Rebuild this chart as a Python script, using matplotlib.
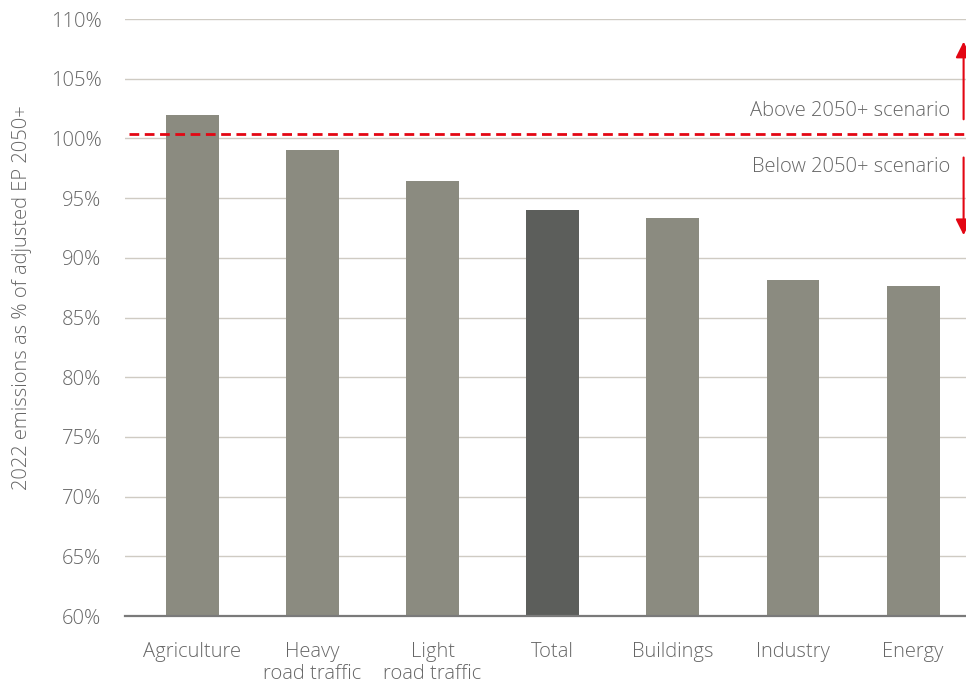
import matplotlib
matplotlib.use("Agg")
import matplotlib.pyplot as plt

categories = ["Agriculture", "Heavy\nroad traffic", "Light\nroad traffic", "Total",
              "Buildings", "Industry", "Energy"]
values = [102.0, 99.0, 96.4, 94.0, 93.3, 88.1, 87.6]
highlight = "Total"
threshold = 100.4
yticks = [60, 65, 70, 75, 80, 85, 90, 95, 100, 105, 110]

plt.rcParams['font.family'] = ['Open Sans', 'DejaVu Sans']

fig = plt.figure(figsize=(9.66, 6.86), dpi=100)
ax = fig.add_axes([125 / 966, 1 - 616 / 686, 1 - 125 / 966, (616 - 19) / 686])

text_col = "#666666"
grid_col = "#cfcbc3"
red = "#e30613"
fs = 14.5

x = list(range(len(categories)))
colors = ["#5c5e5b" if c == highlight else "#8b8b80" for c in categories]
ax.bar(x, [v - 60 for v in values], bottom=60, width=0.44, color=colors, zorder=3)

ax.set_ylim(60, 110)
ax.set_xlim(-0.56, 6.44)
ax.set_yticks(yticks)
ax.set_yticklabels([f"{t}%" for t in yticks])
ax.set_xticks(x)
ax.set_xticklabels(categories)
ax.grid(axis="y", color=grid_col, linewidth=1, zorder=0)
ax.set_axisbelow(True)
for s in ["top", "right", "left"]:
    ax.spines[s].set_visible(False)
ax.spines["bottom"].set_color("#7a7a7a")
ax.spines["bottom"].set_linewidth(1.6)
ax.spines["bottom"].set_zorder(4)
ax.tick_params(axis="both", length=0, labelsize=fs, colors=text_col)
ax.tick_params(axis="y", pad=17)
ax.tick_params(axis="x", pad=19)
for lab in ax.get_xticklabels() + ax.get_yticklabels():
    lab.set_fontweight("light")
for lab in ax.get_xticklabels():
    lab.set_linespacing(1.1)

# reference line for the 2050+ scenario
ax.axhline(threshold, xmin=0.005, xmax=1, color=red, linewidth=2,
           dashes=(3.5, 2.0), zorder=5)

# direction arrows above and below the scenario line
ax.annotate("", xy=(6.42, 108.1), xytext=(6.42, 101.6),
            arrowprops=dict(arrowstyle="-|>", color=red, lw=1.5,
                            mutation_scale=24, shrinkA=0, shrinkB=0),
            annotation_clip=False)
ax.annotate("", xy=(6.42, 91.9), xytext=(6.42, 98.4),
            arrowprops=dict(arrowstyle="-|>", color=red, lw=1.5,
                            mutation_scale=24, shrinkA=0, shrinkB=0),
            annotation_clip=False)

ax.text(6.31, 102.3, "Above 2050+ scenario", ha="right", va="center",
        fontsize=fs, color=text_col, fontweight="light")
ax.text(6.31, 97.6, "Below 2050+ scenario", ha="right", va="center",
        fontsize=fs, color=text_col, fontweight="light")

fig.text(22 / 966, 1 - 298 / 686, "2022 emissions as % of adjusted EP 2050+",
         rotation=90, ha="center", va="center", fontsize=fs, color=text_col,
         fontweight="light")

fig.savefig("out.png", dpi=100)
